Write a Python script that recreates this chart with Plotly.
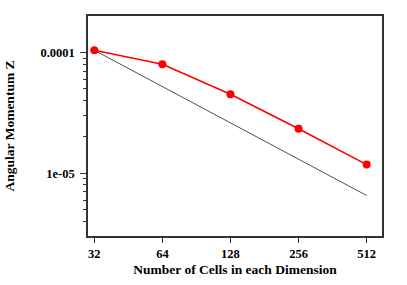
import plotly.graph_objects as go

cells = [32, 64, 128, 256, 512]
ang_mom = [1.047e-4, 8.01e-5, 4.52e-5, 2.34e-5, 1.18e-5]
ref_x = [32, 512]
ref_y = [1.047e-4, 6.54e-6]

x_tick_vals = [32, 64, 128, 256, 512]
x_tick_text = ["32", "64", "128", "256", "512"]
y_tick_vals = [1e-4, 1e-5]
y_tick_text = ["0.0001", "1e-05"]
y_minor_vals = [m * 10.0 ** e for e in (-6, -5) for m in range(2, 10)]

fam = "Liberation Serif, Times New Roman, serif"

fig = go.Figure()
fig.add_trace(go.Scatter(x=ref_x, y=ref_y, mode="lines",
                         line=dict(color="#222222", width=0.8), showlegend=False))
fig.add_trace(go.Scatter(x=cells, y=ang_mom, mode="lines+markers",
                         line=dict(color="#ff0000", width=1.6),
                         marker=dict(color="#ff0000", size=8), showlegend=False))

fig.update_layout(
    width=407, height=285,
    margin=dict(l=88, r=25, t=16, b=49, autoexpand=False),
    paper_bgcolor="white", plot_bgcolor="white",
    font=dict(family=fam, size=12, color="black"),
)
fig.update_xaxes(
    type="log", range=[1.4773, 2.7770], automargin=False,
    tickmode="array", tickvals=x_tick_vals, ticktext=x_tick_text,
    ticks="outside", ticklen=5, tickwidth=1, tickcolor="#333",
    showgrid=False, zeroline=False,
    showline=True, linecolor="#333", linewidth=1.5, mirror=True,
    tickfont=dict(family=fam, size=12.5, color="black", weight="bold"),
    title=dict(text="<b>Number of Cells in each Dimension</b>", standoff=5,
               font=dict(family=fam, size=13.5, color="black")),
)
fig.update_yaxes(
    type="log", range=[-5.52, -3.696], automargin=False,
    tickmode="array", tickvals=y_tick_vals, ticktext=y_tick_text,
    ticks="outside", ticklen=6, tickwidth=1, tickcolor="#333",
    ticklabelstandoff=3,
    minor=dict(tickmode="array", tickvals=y_minor_vals, ticks="outside",
               ticklen=3, tickwidth=1, tickcolor="#333", showgrid=False),
    showgrid=False, zeroline=False,
    showline=True, linecolor="#333", linewidth=1.5, mirror=True,
    tickfont=dict(family=fam, size=12.5, color="black", weight="bold"),
    title=dict(text="<b>Angular Momentum Z</b>", standoff=23,
               font=dict(family=fam, size=13.5, color="black")),
)

fig.write_html("out.html", config={"displayModeBar": False},
               post_script="document.body.style.margin='0';")
